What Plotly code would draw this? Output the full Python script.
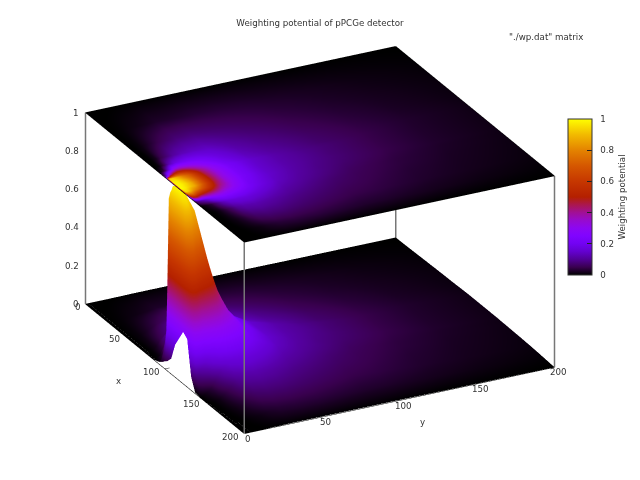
import plotly.graph_objects as go

x_grid = [0,30,55,75,85,92,98,100,103,108,113,118,123,128,133,138,145,155,170,185,200]
y_grid = [0,1,2,4,7,10,14,18,23,30,40,55,70,85,100,130,160,200]
potential = [
 [0,0,0,0,0,.01,.03,.04,.05,.08,.17,.22,.27,.25,.07,.005,0,0,0,0,0],
 [0,0,0,0,0,.01,.08,.15,.9,.98,.99,.99,.9,.6,.35,.08,.005,0,0,0,0],
 [0,0,0,0,.003,.02,.15,.3,.93,.98,.99,.99,.95,.7,.42,.1,.01,.002,0,0,0],
 [0,.003,.005,.005,.01,.05,.35,.55,.92,.97,.98,.97,.92,.72,.45,.12,.02,.005,.002,0,0],
 [0,.005,.01,.02,.05,.18,.52,.68,.86,.92,.94,.92,.82,.62,.38,.15,.04,.015,.008,.002,0],
 [0,.008,.02,.05,.12,.32,.58,.68,.78,.85,.88,.87,.75,.55,.38,.2,.08,.035,.015,.005,0],
 [.001,.012,.035,.08,.18,.35,.55,.62,.7,.74,.76,.74,.65,.5,.36,.24,.13,.065,.03,.01,.001],
 [.002,.015,.05,.11,.2,.33,.48,.53,.58,.61,.62,.61,.55,.45,.34,.25,.16,.1,.05,.015,.002],
 [.002,.02,.065,.13,.21,.3,.39,.42,.44,.46,.47,.46,.43,.37,.3,.24,.17,.12,.07,.025,.002],
 [.003,.028,.08,.14,.2,.25,.3,.31,.32,.33,.33,.33,.32,.3,.26,.22,.17,.125,.08,.035,.003],
 [.003,.03,.085,.14,.17,.19,.21,.22,.225,.23,.23,.23,.22,.21,.2,.18,.15,.115,.08,.04,.003],
 [.003,.035,.075,.11,.125,.135,.145,.15,.15,.15,.15,.15,.15,.145,.14,.13,.115,.095,.07,.04,.003],
 [.003,.035,.065,.09,.1,.108,.115,.118,.12,.12,.12,.12,.118,.115,.11,.105,.095,.08,.06,.035,.003],
 [.003,.032,.055,.075,.085,.09,.095,.095,.098,.1,.1,.098,.095,.092,.09,.085,.075,.065,.05,.03,.003],
 [.003,.027,.045,.06,.068,.072,.075,.078,.08,.08,.08,.08,.078,.075,.07,.065,.06,.055,.045,.028,.003],
 [.002,.02,.03,.04,.045,.048,.05,.05,.05,.05,.05,.05,.05,.048,.045,.042,.04,.035,.03,.02,.002],
 [.002,.013,.02,.025,.028,.03,.03,.03,.03,.03,.03,.03,.03,.03,.028,.027,.025,.023,.02,.013,.002],
 [.001,.006,.01,.012,.014,.015,.015,.015,.015,.015,.015,.015,.015,.015,.014,.014,.013,.012,.01,.006,.001],
]
x_ticks = [0,50,100,150,200]
y_ticks = [0,50,100,150,200]
z_ticks = [0,0.2,0.4,0.6,0.8,1]
z_tick_labels = ["0","0.2","0.4","0.6","0.8","1"]

palette = [
 [0,"rgb(0,0,0)"],[.05,"rgb(57,0,79)"],[.1,"rgb(81,0,150)"],[.15,"rgb(99,1,206)"],[.2,"rgb(114,2,242)"],
 [.25,"rgb(128,4,255)"],[.3,"rgb(140,7,242)"],[.35,"rgb(151,11,206)"],[.4,"rgb(161,16,150)"],[.45,"rgb(171,23,79)"],
 [.5,"rgb(180,32,0)"],[.6,"rgb(198,55,0)"],[.7,"rgb(213,87,0)"],[.8,"rgb(228,131,0)"],[.9,"rgb(242,186,0)"],[1,"rgb(255,255,0)"]]

flat = dict(ambient=1, diffuse=0, specular=0, roughness=1, fresnel=0)
txt = "#333333"
font = "DejaVu Sans"
fs = 8.7

fig = go.Figure()
common = dict(x=x_grid, y=y_grid, colorscale=palette, cmin=0, cmax=1, lighting=flat, hoverinfo="skip")
roof = [[1]*len(x_grid) for _ in y_grid]
fig.add_trace(go.Surface(z=roof, surfacecolor=potential, showscale=False, **common))
fig.add_trace(go.Surface(z=potential, surfacecolor=potential, showscale=True, colorbar=dict(
    x=568/640, xanchor="left", xpad=0, ypad=0, y=1-197/480, yanchor="middle", len=156, lenmode="pixels",
    thickness=24, thicknessmode="pixels", outlinecolor="#333333", outlinewidth=1,
    tickmode="array", tickvals=z_ticks, ticktext=["\u00a0\u00a0"+s for s in z_tick_labels], ticks="inside", ticklen=5, tickcolor="#222222",
    tickfont=dict(family=font, size=fs, color=txt),
    title=dict(text="Weighting potential", side="right", font=dict(family=font, size=fs, color=txt))), **common))

def edge(xs, ys, zs, color, width):
    fig.add_trace(go.Scatter3d(x=xs, y=ys, z=zs, mode="lines", line=dict(color=color, width=width),
                               hoverinfo="skip", showlegend=False))

X0, X1, Y0, Y1 = x_ticks[0], x_ticks[-1], y_ticks[0], y_ticks[-1]
for h in (0, 1):
    edge([X0,X1,X1,X0,X0],[Y0,Y0,Y1,Y1,Y0],[h]*5,"#000000",1)
for cx, cy in ((X0,Y0),(X1,Y0),(X1,Y1),(X0,Y1)):
    edge([cx,cx],[cy,cy],[0,1],"#777777",3)
for t in x_ticks:
    edge([t,t],[0,3],[0,0],"#000000",1)
for t in y_ticks:
    edge([200,194],[t,t],[0,0],"#000000",1)

ann = []
def label(text, x, y, z, xa, xs, ys):
    ann.append(dict(x=x, y=y, z=z, text=text, showarrow=False, xanchor=xa, yanchor="middle", xshift=xs, yshift=ys,
                    font=dict(family=font, size=fs, color=txt)))
for t in x_ticks:
    label(str(t), t, 0, 0, "right", -3, -3)
for t in y_ticks:
    label(str(t), 200, t, 0, "center", 4, -5)
for t, s in zip(z_ticks, z_tick_labels):
    label(s, 0, 0, t, "right", -5, 0)
label("x", 100, 0, 0, "center", -46, -12)
label("y", 200, 100, 0, "center", 23, -21)

k = 1.375
fig.update_layout(
    width=640, height=480, margin=dict(l=0, r=0, t=0, b=0), paper_bgcolor="white", showlegend=False,
    title=dict(text="Weighting potential of pPCGe detector", x=320/640, xanchor="center", y=1-23/480, yanchor="middle",
               font=dict(family=font, size=fs, color=txt)),
    annotations=[dict(text='"./wp.dat" matrix', x=585/640, y=1-37/480, xref="paper", yref="paper", xanchor="right",
                      yanchor="middle", showarrow=False, font=dict(family=font, size=fs, color=txt))],
    scene=dict(
        domain=dict(x=[0,1], y=[0,1]),
        aspectmode="manual", aspectratio=dict(x=1.452, y=1.452, z=0.878),
        camera=dict(projection=dict(type="orthographic"), up=dict(x=0,y=0,z=1), center=dict(x=0,y=0,z=0),
                    eye=dict(x=0.809*k, y=-0.414*k, z=0.418*k)),
        xaxis=dict(visible=False, range=[0,200]), yaxis=dict(visible=False, range=[0,200]), zaxis=dict(visible=False, range=[0,1]),
        annotations=ann,
    ),
)
fig.write_html("out.html", config=dict(displayModeBar=False), post_script="document.body.style.margin='0';document.body.style.overflow='hidden';")
